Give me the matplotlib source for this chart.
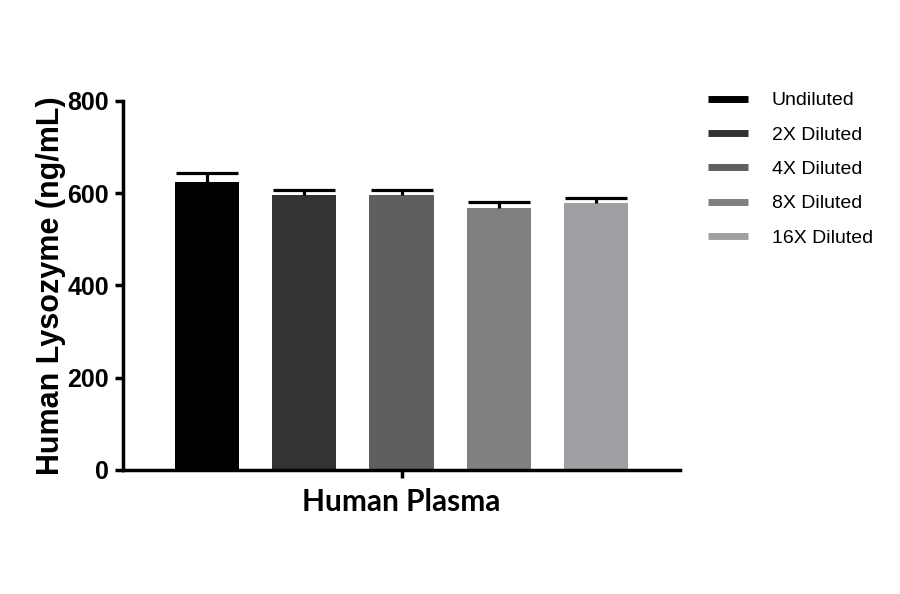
import numpy as np
import matplotlib
matplotlib.use('Agg')
import matplotlib.pyplot as plt
from matplotlib.lines import Line2D

# data
groups = ['Undiluted', '2X Diluted', '4X Diluted', '8X Diluted', '16X Diluted']
means = [625, 596, 596, 568, 579]
errors = [18, 11, 11, 14, 11]
colors = ['#000000', '#333333', '#5f5f5f', '#808080', '#a0a0a4']
category = 'Human Plasma'
yticks = [0, 200, 400, 600, 800]

plt.rcParams['font.family'] = ['Liberation Sans', 'DejaVu Sans']

fig = plt.figure(figsize=(9, 5.94), dpi=100)
ax = fig.add_axes([0.1367, 0.2088, 0.6189, 0.6212])

x = np.arange(len(groups))
for xi, m, e, c, g in zip(x, means, errors, colors, groups):
    ax.bar(xi, m, width=0.66, color=c, label=g, zorder=2)
    _, caps, _ = ax.errorbar(xi, m, yerr=[[0], [e]], fmt='none', ecolor='black',
                             elinewidth=2.3, capsize=22, capthick=2.3, zorder=3)
    caps[0].set_visible(False)  # only the upper cap

ax.set_xlim(-0.86, 4.86)
ax.set_ylim(0, 800)
ax.set_yticks(yticks)
ax.set_yticklabels([str(v) for v in yticks], fontsize=18, fontweight='bold')
ax.set_xticks([2])
ax.set_xticklabels([category], fontsize=21.5, fontweight='bold', family=['Lato', 'DejaVu Sans'])
ax.set_ylabel('Human Lysozyme (ng/mL)', fontsize=22, fontweight='bold', labelpad=1)

for side in ['top', 'right']:
    ax.spines[side].set_visible(False)
for side in ['left', 'bottom']:
    ax.spines[side].set_linewidth(2.5)
ax.tick_params(axis='both', width=2.5, length=6)
ax.tick_params(axis='y', pad=4)
ax.tick_params(axis='x', pad=7)

handles = [Line2D([0], [0], color=c, lw=5, solid_capstyle='butt') for c in colors]
fig.legend(handles, groups, loc='upper left', bbox_to_anchor=(0.767, 0.875),
           frameon=False, fontsize=14, handlelength=2.06, handletextpad=1.24,
           labelspacing=0.86)

fig.savefig('out.png', dpi=100)
